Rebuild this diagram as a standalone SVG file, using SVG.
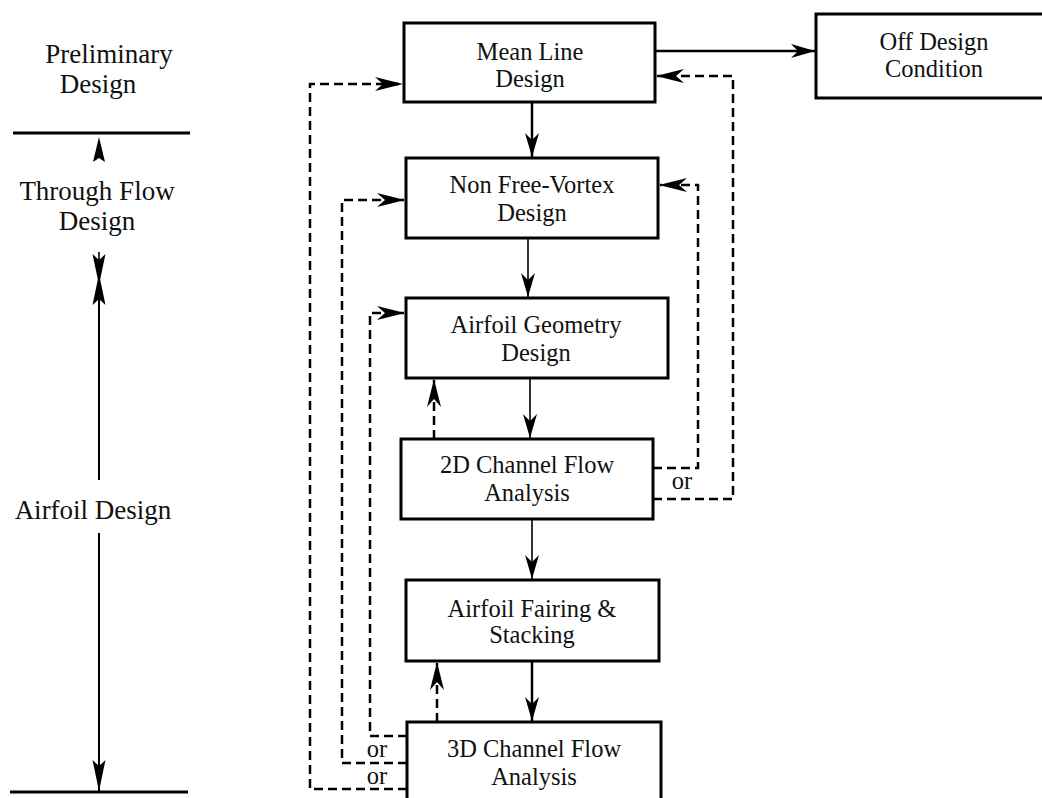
<svg xmlns="http://www.w3.org/2000/svg" width="1042" height="798" viewBox="0 0 1042 798">
<style>
  .box { fill: #fff; stroke: #000; stroke-width: 3; }
  .t { font-family: "Liberation Serif", "Times New Roman", serif; font-size: 24.5px; fill: #111; text-anchor: middle; }
  .lt { font-family: "Liberation Serif", "Times New Roman", serif; font-size: 27px; fill: #111; text-anchor: middle; }
  .thick { stroke: #000; stroke-width: 2.5; fill: none; }
  .thin { stroke: #000; stroke-width: 1.6; fill: none; }
  .dash { stroke: #000; stroke-width: 2.5; fill: none; stroke-dasharray: 9 5; }
  .rule { stroke: #000; stroke-width: 3; }
</style>
<defs>
  <marker id="ah" viewBox="-26 -8 28 16" refX="0" refY="0" markerWidth="28" markerHeight="16" markerUnits="userSpaceOnUse" orient="auto">
    <path d="M0,0 L-24,-7 L-17,0 L-24,7 Z" fill="#000"/>
  </marker>
  <marker id="ahd" viewBox="-30 -8 32 16" refX="0" refY="0" markerWidth="32" markerHeight="16" markerUnits="userSpaceOnUse" orient="auto">
    <path d="M0,0 L-28,-7 L-20,0 L-28,7 Z" fill="#000"/>
  </marker>
  <marker id="ahl" viewBox="-34 -8 36 16" refX="0" refY="0" markerWidth="36" markerHeight="16" markerUnits="userSpaceOnUse" orient="auto">
    <path d="M0,0 L-31,-6.5 L-25,0 L-31,6.5 Z" fill="#000"/>
  </marker>
</defs>

<g id="left-scale">
  <text class="lt" x="109" y="63">Preliminary</text>
  <text class="lt" x="98" y="93">Design</text>
  <line class="rule" x1="13" y1="133" x2="190" y2="133"/>
  <path d="M99,137 L105,162 L99,158 L93,162 Z" fill="#000"/>
  <text class="lt" x="97" y="200">Through Flow</text>
  <text class="lt" x="97" y="230">Design</text>
  <line class="thin" x1="99" y1="252" x2="99" y2="285" marker-end="url(#ahl)"/>
  <line class="thick" x1="99" y1="480" x2="99" y2="274" marker-end="url(#ahl)" style="stroke-width:2"/>
  <text class="lt" x="93" y="519">Airfoil Design</text>
  <line class="thick" x1="99" y1="533" x2="99" y2="791" marker-end="url(#ahl)" style="stroke-width:2"/>
  <line class="rule" x1="10" y1="792" x2="188" y2="792"/>
</g>

<g id="connectors">
  <line class="thick" x1="532" y1="102" x2="532" y2="157"/>
  <line class="thin" x1="528" y1="238" x2="528" y2="297"/>
  <line class="thin" x1="530" y1="378" x2="530" y2="438"/>
  <line class="thin" x1="532" y1="519" x2="532" y2="579"/>
  <line class="thick" x1="532" y1="661" x2="532" y2="721"/>
  <line class="thick" x1="655" y1="51" x2="815" y2="51"/>
  <polyline class="dash" points="407,789 310,789 310,84 402,84"/>
  <polyline class="dash" points="407,763 342,763 342,200 404,200"/>
  <polyline class="dash" points="407,736 370,736 370,313 404,313"/>
  <line class="dash" x1="437" y1="722" x2="437" y2="663"/>
  <line class="dash" x1="434" y1="439" x2="434" y2="380"/>
  <polyline class="dash" points="653,468 698,468 698,185 660,185"/>
  <polyline class="dash" points="653,499 733,499 733,76 657,76"/>
  <g id="arrowheads">
    <line x1="532" y1="120" x2="532" y2="157" stroke="none" marker-end="url(#ah)"/>
    <line x1="528" y1="260" x2="528" y2="297" stroke="none" marker-end="url(#ah)"/>
    <line x1="530" y1="400" x2="530" y2="438" stroke="none" marker-end="url(#ah)"/>
    <line x1="532" y1="540" x2="532" y2="579" stroke="none" marker-end="url(#ah)"/>
    <line x1="532" y1="690" x2="532" y2="721" stroke="none" marker-end="url(#ah)"/>
    <line x1="760" y1="51" x2="815" y2="51" stroke="none" marker-end="url(#ah)"/>
    <line x1="350" y1="84" x2="403" y2="84" stroke="none" marker-end="url(#ahd)"/>
    <line x1="360" y1="200" x2="405" y2="200" stroke="none" marker-end="url(#ahd)"/>
    <line x1="380" y1="313" x2="405" y2="313" stroke="none" marker-end="url(#ahd)"/>
    <line x1="437" y1="700" x2="437" y2="662" stroke="none" marker-end="url(#ahd)"/>
    <line x1="434" y1="420" x2="434" y2="379" stroke="none" marker-end="url(#ahd)"/>
    <line x1="690" y1="185" x2="659" y2="185" stroke="none" marker-end="url(#ahd)"/>
    <line x1="700" y1="76" x2="656" y2="76" stroke="none" marker-end="url(#ahd)"/>
  </g>
  <text class="t" x="682" y="489">or</text>
  <text class="t" x="377" y="757">or</text>
  <text class="t" x="377" y="784">or</text>
</g>

<g id="mean-line">
  <rect class="box" x="404" y="23" width="251" height="79"/>
  <text class="t" x="530" y="60">Mean Line</text>
  <text class="t" x="530" y="87">Design</text>
</g>
<g id="off-design">
  <rect class="box" x="816" y="14" width="240" height="84"/>
  <text class="t" x="934" y="50">Off Design</text>
  <text class="t" x="934" y="77">Condition</text>
</g>
<g id="non-free-vortex">
  <rect class="box" x="406" y="158" width="252" height="80"/>
  <text class="t" x="532" y="193">Non Free-Vortex</text>
  <text class="t" x="532" y="221">Design</text>
</g>
<g id="airfoil-geometry">
  <rect class="box" x="406" y="298" width="262" height="80"/>
  <text class="t" x="536" y="333">Airfoil Geometry</text>
  <text class="t" x="536" y="361">Design</text>
</g>
<g id="channel-2d">
  <rect class="box" x="401" y="439" width="252" height="80"/>
  <text class="t" x="527" y="473">2D Channel Flow</text>
  <text class="t" x="527" y="501">Analysis</text>
</g>
<g id="fairing-stacking">
  <rect class="box" x="406" y="580" width="253" height="81"/>
  <text class="t" x="532" y="617">Airfoil Fairing &amp;</text>
  <text class="t" x="532" y="643">Stacking</text>
</g>
<g id="channel-3d">
  <rect class="box" x="407" y="722" width="254" height="90"/>
  <text class="t" x="534" y="757">3D Channel Flow</text>
  <text class="t" x="534" y="785">Analysis</text>
</g>
</svg>
